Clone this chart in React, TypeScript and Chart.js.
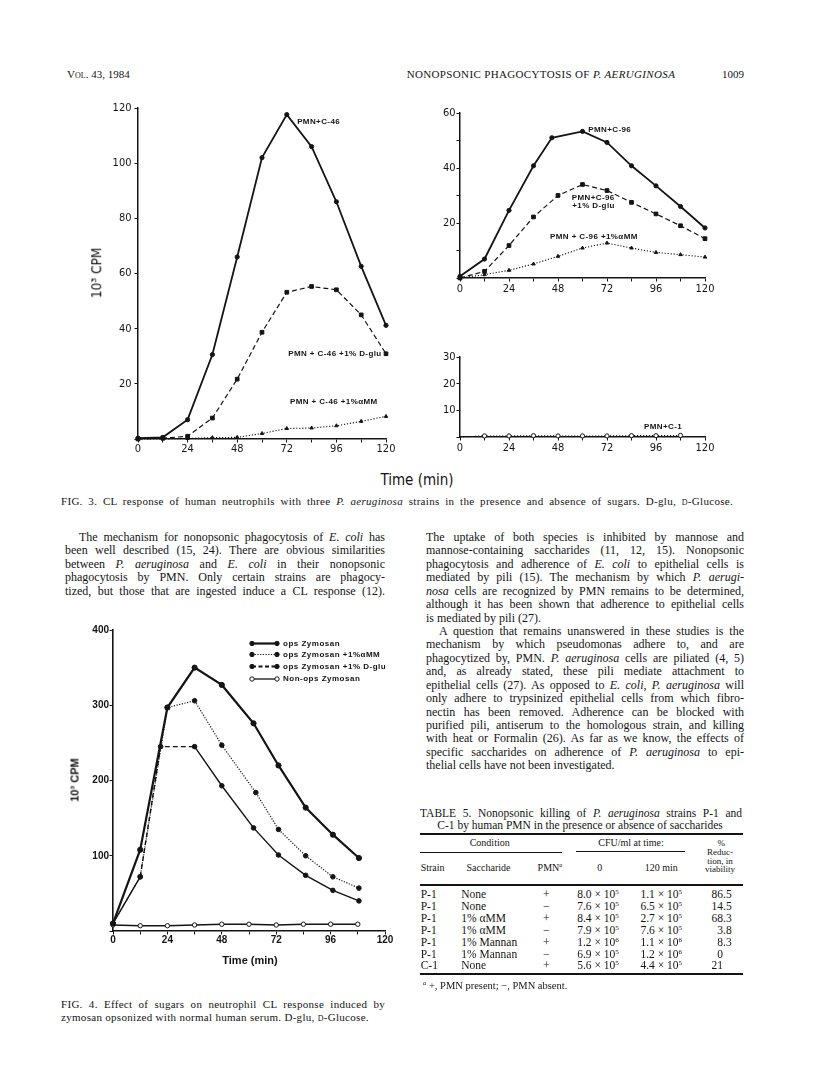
import React, { useEffect, useRef } from 'react';
import { Chart, registerables } from 'chart.js';
Chart.register(...registerables);

// ---------------- DATA ----------------
// Fig. 3, strain C-46 (10^3 CPM vs time, min)
const F3A_T = [0, 12, 24, 36, 48, 60, 72, 84, 96, 108, 120];
const F3A_PMN = [0.3, 0.6, 7, 30.6, 66, 102, 117.6, 106, 86, 62.6, 41.2];
const F3A_DGLU = [0, 0.3, 1, 7.6, 21.7, 38.7, 53.2, 55.3, 54.1, 45, 30.9];
const F3A_AMM = [0, 0, 0.2, 0.5, 0.6, 2, 3.8, 4, 4.8, 6.4, 8.2];

// Fig. 3, strain C-96
const F3B_T_PMN = [0, 12, 24, 36, 45, 60, 72, 84, 96, 108, 120];
const F3B_PMN = [0.6, 6.9, 24.6, 40.8, 51, 53.3, 49.3, 40.8, 33.5, 26, 18.2];
const F3B_T = [0, 12, 24, 36, 48, 60, 72, 84, 96, 108, 120];
const F3B_DGLU = [0, 2.4, 11.8, 22.2, 30, 34, 31.8, 27.5, 23.3, 19, 14.3];
const F3B_AMM = [0, 1.2, 2.8, 5.1, 7.9, 10.9, 12.7, 10.9, 9.3, 8.5, 7.6];

// Fig. 3, strain C-1
const F3C_T = [0, 12, 24, 36, 48, 60, 72, 84, 96, 108];
const F3C_PMN = [0, 0.4, 0.4, 0.5, 0.4, 0.4, 0.4, 0.5, 0.5, 0.6];

// Fig. 4, zymosan
const F4_OPS_T = [0, 12, 24, 36, 48, 62, 73, 85, 97, 108.5];
const F4_OPS = [10, 108, 297, 350, 327, 276, 220, 164, 128, 97];
const F4_AMM_T = [0, 12, 24, 36, 48, 63, 73, 85, 97, 108.5];
const F4_AMM = [10, 72, 297, 306, 247, 184, 135, 100, 72, 57];
const F4_DGLU_T = [0, 12, 21, 36, 48, 62, 73, 85, 97, 108.5];
const F4_DGLU = [10, 72, 245, 245, 193, 137, 101, 74, 54, 40];
const F4_NON_T = [0, 12, 24, 36, 48, 60, 72, 84, 96, 108];
const F4_NON = [8, 7, 7, 8, 9, 9, 8, 9, 9, 9];
const F4_LABELS = ['ops Zymosan', 'ops Zymosan +1%\u03b1MM', 'ops Zymosan +1% D-glu', 'Non-ops Zymosan'];

// Table 5
const T5_STRAIN = ['P-1', 'P-1', 'P-1', 'P-1', 'P-1', 'P-1', 'C-1'];
const T5_SACCH = ['None', 'None', '1% \u03b1MM', '1% \u03b1MM', '1% Mannan', '1% Mannan', 'None'];
const T5_PMN = ['+', '\u2212', '+', '\u2212', '+', '\u2212', '+'];
const T5_CFU0_M = ['8.0', '7.6', '8.4', '7.9', '1.2', '6.9', '5.6'];
const T5_CFU0_E = ['5', '5', '5', '5', '6', '5', '5'];
const T5_CFU120_M = ['1.1', '6.5', '2.7', '7.6', '1.1', '1.2', '4.4'];
const T5_CFU120_E = ['5', '5', '5', '5', '6', '6', '5'];
const T5_RED = ['86.5', '14.5', '68.3', '3.8', '8.3', '0', '21'];

// ---------------- STYLE ----------------
const SERIF = "'Liberation Serif', 'Times New Roman', serif";
const NARROW = "'Liberation Sans Narrow', 'DejaVu Sans Condensed', 'Liberation Sans', sans-serif";
const SANS = "'Liberation Sans', Arial, sans-serif";
const INK = '#141414';

type Note = { text: string; x: number; y: number };

const F3A_NOTES: Note[] = [
  { text: 'PMN+C-46', x: 77, y: 115 },
  { text: 'PMN + C-46 +1% D-glu', x: 72.7, y: 30.8 },
  { text: 'PMN + C-46 +1%\u03b1MM', x: 73.5, y: 13.5 },
];
const F3B_NOTES: Note[] = [
  { text: 'PMN+C-96', x: 62.8, y: 53.8 },
  { text: 'PMN+C-96', x: 54.7, y: 29.2 },
  { text: '+1% D-glu', x: 55, y: 26.4 },
  { text: 'PMN + C-96 +1%\u03b1MM', x: 44.1, y: 15 },
];
const F3C_NOTES: Note[] = [{ text: 'PMN+C-1', x: 90.1, y: 3.9 }];

function notesPlugin(items: Note[], font: string, spacing: string) {
  return {
    id: 'notes',
    afterDatasetsDraw(chart: any) {
      const ctx = chart.ctx;
      const xs = chart.scales.x;
      const ys = chart.scales.y;
      ctx.save();
      ctx.fillStyle = INK;
      ctx.font = font;
      ctx.textBaseline = 'middle';
      ctx.textAlign = 'left';
      try { (ctx as any).letterSpacing = spacing; } catch (e) { /* ignore */ }
      for (const n of items) ctx.fillText(n.text, xs.getPixelForValue(n.x), ys.getPixelForValue(n.y));
      ctx.restore();
    },
  };
}

const F4_LEG_ROWS = [28.5, 39.5, 51.5, 64];
const F4_LEG_X0 = 192;
const F4_LEG_X1 = 217;
const F4_LEG_TX = 223;
const F4_LEG_W = [2.2, 1.2, 1.8, 1.3];
const F4_LEG_DASH = [[], [1.2, 1.5], [4, 2.5], []];

function f4LegendPlugin() {
  return {
    id: 'f4legend',
    afterDraw(chart: any) {
      const ctx = chart.ctx;
      chart.data.datasets.forEach((d: any, i: number) => {
        const y = F4_LEG_ROWS[i];
        ctx.save();
        ctx.strokeStyle = INK;
        ctx.lineWidth = F4_LEG_W[i];
        ctx.setLineDash(F4_LEG_DASH[i]);
        ctx.beginPath();
        ctx.moveTo(F4_LEG_X0, y);
        ctx.lineTo(F4_LEG_X1, y);
        ctx.stroke();
        ctx.setLineDash([]);
        ctx.lineWidth = 1;
        for (const x of [F4_LEG_X0, F4_LEG_X1]) {
          ctx.beginPath();
          ctx.arc(x, y, 2.2, 0, Math.PI * 2);
          ctx.fillStyle = d.pointBackgroundColor;
          ctx.fill();
          ctx.stroke();
        }
        ctx.fillStyle = INK;
        ctx.font = `bold 8px ${SANS}`;
        try { (ctx as any).letterSpacing = '0.5px'; } catch (e) { /* ignore */ }
        ctx.textBaseline = 'middle';
        ctx.textAlign = 'left';
        ctx.fillText(d.label, F4_LEG_TX, y);
        ctx.restore();
      });
    },
  };
}

type ScaleOpt = {
  xMax: number; yMax: number; xStep: number; xLabelEvery: number; yStep: number; yLabelEvery: number;
  yAxisW: number; xAxisH: number; font: any; tl: number; xPad: number; yPad: number; axisW: number;
};

function mkScales(o: ScaleOpt) {
  const grid = () => ({ drawOnChartArea: false, drawTicks: true, tickLength: o.tl, color: INK, lineWidth: 1 });
  return {
    x: {
      type: 'linear', min: 0, max: o.xMax,
      afterFit: (s: any) => { s.height = o.xAxisH; },
      border: { display: true, color: INK, width: o.axisW },
      grid: grid(),
      ticks: {
        stepSize: o.xStep, autoSkip: false, maxRotation: 0, minRotation: 0, padding: o.xPad, color: INK, font: o.font,
        callback: (v: any) => (Math.round(v) % o.xLabelEvery === 0 ? String(v) : ''),
      },
    },
    y: {
      type: 'linear', min: 0, max: o.yMax,
      afterFit: (s: any) => { s.width = o.yAxisW; },
      border: { display: true, color: INK, width: o.axisW },
      grid: grid(),
      ticks: {
        stepSize: o.yStep, autoSkip: false, padding: o.yPad, color: INK, font: o.font,
        callback: (v: any) => (v !== 0 && Math.round(v) % o.yLabelEvery === 0 ? String(v) : ''),
      },
    },
  };
}

function baseOptions(top: number, right: number, scales: any) {
  return {
    responsive: false,
    maintainAspectRatio: false,
    animation: false,
    devicePixelRatio: 1,
    events: [],
    layout: { padding: { top, right, left: 0, bottom: 0 } },
    plugins: { legend: { display: false }, tooltip: { enabled: false } },
    scales,
  };
}

function series(label: string, xs: number[], ys: number[], s: any) {
  return {
    label,
    data: xs.map((x, i) => ({ x, y: ys[i] })),
    borderColor: INK,
    backgroundColor: INK,
    pointBackgroundColor: s.fill ?? INK,
    pointBorderColor: INK,
    pointBorderWidth: 1,
    borderWidth: s.w,
    borderDash: s.dash ?? [],
    pointStyle: s.ps ?? 'circle',
    pointRadius: s.r,
    tension: 0,
    clip: 12,
    ...(s.extra ?? {}),
  };
}

const F3_FONT = { family: NARROW, size: 11 };
const F4_FONT = { family: SANS, size: 10, weight: 'bold' };
const NOTE_FONT = `bold 8px ${SANS}`;

function buildF3A() {
  return {
    type: 'line',
    data: {
      datasets: [
        series('PMN+C-46', F3A_T, F3A_PMN, { w: 1.8, r: 2.1 }),
        series('PMN + C-46 +1% D-glu', F3A_T, F3A_DGLU, { w: 1.2, dash: [5, 3], ps: 'rect', r: 2.6 }),
        series('PMN + C-46 +1%\u03b1MM', F3A_T, F3A_AMM, { w: 1.1, dash: [1.2, 1.8], ps: 'triangle', r: 2 }),
      ],
    },
    options: baseOptions(13, 14, mkScales({
      xMax: 120, yMax: 120, xStep: 12, xLabelEvery: 24, yStep: 20, yLabelEvery: 20,
      yAxisW: 60, xAxisH: 26, font: F3_FONT, tl: 3.5, xPad: 0, yPad: 3, axisW: 1.5,
    })),
    plugins: [notesPlugin(F3A_NOTES, NOTE_FONT, '0.4px')],
  };
}

function buildF3B() {
  return {
    type: 'line',
    data: {
      datasets: [
        series('PMN+C-96', F3B_T_PMN, F3B_PMN, { w: 1.8, r: 2.1 }),
        series('PMN+C-96 +1% D-glu', F3B_T, F3B_DGLU, { w: 1.2, dash: [5, 3], ps: 'rect', r: 2.6 }),
        series('PMN + C-96 +1%\u03b1MM', F3B_T, F3B_AMM, { w: 1.1, dash: [1.2, 1.8], ps: 'triangle', r: 2 }),
      ],
    },
    options: baseOptions(13, 15, mkScales({
      xMax: 120, yMax: 60, xStep: 12, xLabelEvery: 24, yStep: 10, yLabelEvery: 20,
      yAxisW: 50, xAxisH: 22, font: F3_FONT, tl: 3.5, xPad: 1, yPad: 1, axisW: 1.5,
    })),
    plugins: [notesPlugin(F3B_NOTES, NOTE_FONT, '0.4px')],
  };
}

function buildF3C() {
  return {
    type: 'line',
    data: {
      datasets: [
        series('PMN+C-1', F3C_T, F3C_PMN, {
          w: 1.1, dash: [1.2, 1.8], fill: '#ffffff', r: 2.1,
          extra: { pointRadius: (c: any) => (c.dataIndex === 0 ? 0 : 2.1) },
        }),
      ],
    },
    options: baseOptions(12, 15, mkScales({
      xMax: 120, yMax: 30, xStep: 12, xLabelEvery: 24, yStep: 10, yLabelEvery: 10,
      yAxisW: 50, xAxisH: 23, font: F3_FONT, tl: 3.5, xPad: 1, yPad: 1, axisW: 1.5,
    })),
    plugins: [notesPlugin(F3C_NOTES, NOTE_FONT, '0.4px')],
  };
}

function buildF4() {
  return {
    type: 'line',
    data: {
      datasets: [
        series(F4_LABELS[0], F4_OPS_T, F4_OPS, { w: 2.2, r: 2.6 }),
        series(F4_LABELS[1], F4_AMM_T, F4_AMM, { w: 1.2, dash: [1.2, 1.5], r: 2.3 }),
        series(F4_LABELS[2], F4_DGLU_T, F4_DGLU, {
          w: 1.4, r: 2.3,
          extra: { segment: { borderDash: (c: any) => (c.p0DataIndex === 1 || c.p0DataIndex === 2 ? [5, 3] : undefined) } },
        }),
        series(F4_LABELS[3], F4_NON_T, F4_NON, { w: 1.3, r: 2.2, fill: '#ffffff' }),
      ],
    },
    options: baseOptions(15, 15, mkScales({
      xMax: 120, yMax: 400, xStep: 12, xLabelEvery: 24, yStep: 100, yLabelEvery: 100,
      yAxisW: 53, xAxisH: 29, font: F4_FONT, tl: 3.5, xPad: 0, yPad: 0.5, axisW: 1.6,
    })),
    plugins: [f4LegendPlugin()],
  };
}

function ChartCanvas({ left, top, w, h, build }: { left: number; top: number; w: number; h: number; build: () => any }) {
  const ref = useRef<HTMLCanvasElement>(null);
  useEffect(() => {
    const chart = new Chart(ref.current as HTMLCanvasElement, build() as any);
    return () => chart.destroy();
  }, [build]);
  return <canvas ref={ref} width={w} height={h} style={{ position: 'absolute', left, top, width: w, height: h }} />;
}

// ---------------- TEXT HELPERS ----------------
function rich(s: string) {
  return s.split('*').map((p, i) => (i % 2 ? <i key={i}>{p}</i> : <React.Fragment key={i}>{p}</React.Fragment>));
}

type TProps = {
  x: number; cy: number; w?: number; size?: number; justify?: boolean;
  align?: 'left' | 'center' | 'right'; family?: string; style?: React.CSSProperties; children: React.ReactNode;
};
function T({ x, cy, w, size = 12, justify, align = 'left', family, style, children }: TProps) {
  const L = Math.round(size * 1.2);
  const st: React.CSSProperties = {
    position: 'absolute', top: cy - L / 2, fontSize: size, lineHeight: L + 'px', whiteSpace: 'nowrap',
    fontFamily: family ?? SERIF,
  };
  if (w !== undefined) st.width = w;
  if (justify) { st.textAlign = 'justify'; (st as any).textAlignLast = 'justify'; }
  if (align === 'center') { st.left = x; st.transform = 'translateX(-50%)'; }
  else if (align === 'right') { st.right = 816 - x; }
  else st.left = x;
  return <div style={{ ...st, ...style }}>{children}</div>;
}

const Sup = ({ children }: { children: React.ReactNode }) => (
  <span style={{ fontSize: '0.62em', verticalAlign: '4px', lineHeight: 0 }}>{children}</span>
);
const SC = ({ children }: { children: React.ReactNode }) => <span style={{ fontVariant: 'small-caps' }}>{children}</span>;

function Rot({ cx, cy, size, family, weight, children }: { cx: number; cy: number; size: number; family: string; weight?: number; children: React.ReactNode }) {
  return (
    <div style={{
      position: 'absolute', left: cx, top: cy, transform: 'translate(-50%, -50%) rotate(-90deg)',
      fontFamily: family, fontSize: size, fontWeight: weight ?? 400, whiteSpace: 'nowrap', lineHeight: 1,
    }}>{children}</div>
  );
}

const LEFT_LINES = [
  'The mechanism for nonopsonic phagocytosis of *E. coli* has',
  'been well described (15, 24). There are obvious similarities',
  'between *P. aeruginosa* and *E. coli* in their nonopsonic',
  'phagocytosis by PMN. Only certain strains are phagocy-',
  'tized, but those that are ingested induce a CL response (12).',
];
const RIGHT_LINES = [
  'The uptake of both species is inhibited by mannose and',
  'mannose-containing saccharides (11, 12, 15). Nonopsonic',
  'phagocytosis and adherence of *E. coli* to epithelial cells is',
  'mediated by pili (15). The mechanism by which *P. aerugi-*',
  '*nosa* cells are recognized by PMN remains to be determined,',
  'although it has been shown that adherence to epithelial cells',
  'is mediated by pili (27).',
  'A question that remains unanswered in these studies is the',
  'mechanism by which pseudomonas adhere to, and are',
  'phagocytized by, PMN. *P. aeruginosa* cells are piliated (4, 5)',
  'and, as already stated, these pili mediate attachment to',
  'epithelial cells (27). As opposed to *E. coli*, *P. aeruginosa* will',
  'only adhere to trypsinized epithelial cells from which fibro-',
  'nectin has been removed. Adherence can be blocked with',
  'purified pili, antiserum to the homologous strain, and killing',
  'with heat or Formalin (26). As far as we know, the effects of',
  'specific saccharides on adherence of *P. aeruginosa* to epi-',
  'thelial cells have not been investigated.',
];
const RIGHT_LAST = [6, 17];
const RIGHT_INDENT = [7];

const LINE_H = 13.43;
const COL_TOP = 537;
const CAP = { letterSpacing: '0.3px' };

export default function App() {
  const rowY = (i: number) => 894 + i * 11.9;
  return (
    <div style={{ position: 'absolute', left: 0, top: 0, width: 816, height: 1077, background: '#fff', overflow: 'hidden', color: INK, fontFamily: SERIF }}>
      {/* running head */}
      <T x={67} cy={74} size={11}>V<SC>ol</SC>. 43, 1984</T>
      <T x={406.7} cy={74} size={11} style={{ letterSpacing: '0.35px' }}>NONOPSONIC PHAGOCYTOSIS OF <i>P. AERUGINOSA</i></T>
      <T x={722} cy={74} size={11}>1009</T>

      {/* Fig. 3 */}
      <ChartCanvas left={78} top={95} w={322} h={370} build={buildF3A} />
      <ChartCanvas left={410} top={100} w={310} h={200} build={buildF3B} />
      <ChartCanvas left={410} top={345} w={310} h={115} build={buildF3C} />
      <Rot cx={97} cy={273} size={13.5} family={NARROW}>10³ CPM</Rot>
      <T x={417} cy={480} size={15} align="center" family={NARROW}>Time (min)</T>
      <T x={61} cy={501} w={672} size={11} justify style={CAP}>
        FIG. 3. CL response of human neutrophils with three <i>P. aeruginosa</i> strains in the presence and absence of sugars. D-glu, <SC>d</SC>-Glucose.
      </T>

      {/* left column text */}
      {LEFT_LINES.map((l, i) => (
        <T key={'l' + i} x={i === 0 ? 79 : 65} cy={COL_TOP + i * LINE_H} w={i === 0 ? 306 : 320} size={12} justify>{rich(l)}</T>
      ))}

      {/* right column text */}
      {RIGHT_LINES.map((l, i) => {
        const ind = RIGHT_INDENT.includes(i) ? 13 : 0;
        return (
          <T key={'r' + i} x={426 + ind} cy={COL_TOP + i * LINE_H} w={318 - ind} size={12} justify={!RIGHT_LAST.includes(i)}>{rich(l)}</T>
        );
      })}

      {/* Fig. 4 */}
      <ChartCanvas left={60} top={615} w={340} h={345} build={buildF4} />
      <Rot cx={75} cy={780} size={11} family={SANS} weight={700}>10³ CPM</Rot>
      <T x={250} cy={960} size={11} align="center" family={SANS} style={{ fontWeight: 700 }}>Time (min)</T>
      <T x={61} cy={1004} w={324} size={11} justify style={CAP}>FIG. 4. Effect of sugars on neutrophil CL response induced by</T>
      <T x={61} cy={1017.5} size={11} style={CAP}>zymosan opsonized with normal human serum. D-glu, <SC>d</SC>-Glucose.</T>

      {/* Table 5 */}
      <T x={420} cy={812.7} w={322} size={11.5} justify>TABLE 5. Nonopsonic killing of <i>P. aeruginosa</i> strains P-1 and</T>
      <T x={580} cy={824.5} size={11.5} align="center">C-1 by human PMN in the presence or absence of saccharides</T>
      <div style={{ position: 'absolute', left: 420, top: 833.3, width: 323, height: 1.5, background: INK }} />
      <T x={489.7} cy={842.7} size={10} align="center">Condition</T>
      <T x={631} cy={842.7} size={10} align="center">CFU/ml at time:</T>
      <T x={721.3} cy={843} size={9} align="center">%</T>
      <div style={{ position: 'absolute', left: 420, top: 851.6, width: 142, height: 1, background: INK }} />
      <div style={{ position: 'absolute', left: 576, top: 851.3, width: 109, height: 1, background: INK }} />
      <T x={720} cy={852.5} size={9} align="center">Reduc-</T>
      <T x={720} cy={861} size={9} align="center">tion, in</T>
      <T x={720} cy={869.5} size={9} align="center">viability</T>
      <T x={420.7} cy={868.3} size={10}>Strain</T>
      <T x={488.5} cy={868.3} size={10} align="center">Saccharide</T>
      <T x={550} cy={868.3} size={10} align="center">PMN<Sup><i>a</i></Sup></T>
      <T x={599.7} cy={868.3} size={10} align="center">0</T>
      <T x={661.3} cy={868.3} size={10} align="center">120 min</T>
      <div style={{ position: 'absolute', left: 420, top: 884.3, width: 323, height: 1.3, background: INK }} />
      {T5_STRAIN.map((s, i) => (
        <React.Fragment key={'t' + i}>
          <T x={420.7} cy={rowY(i)} size={11.5}>{s}</T>
          <T x={461.3} cy={rowY(i)} size={11.5}>{T5_SACCH[i]}</T>
          <T x={546.3} cy={rowY(i)} size={11.5} align="center">{T5_PMN[i]}</T>
          <T x={598} cy={rowY(i)} size={11.5} align="center">{T5_CFU0_M[i]} × 10<Sup>{T5_CFU0_E[i]}</Sup></T>
          <T x={661.3} cy={rowY(i)} size={11.5} align="center">{T5_CFU120_M[i]} × 10<Sup>{T5_CFU120_E[i]}</Sup></T>
          <T x={723} cy={rowY(i)} size={11.5} align="right">{T5_RED[i].split('.')[0]}</T>
          {T5_RED[i].includes('.') ? <T x={723} cy={rowY(i)} size={11.5}>.{T5_RED[i].split('.')[1]}</T> : null}
        </React.Fragment>
      ))}
      <div style={{ position: 'absolute', left: 420, top: 973.2, width: 323, height: 1.6, background: INK }} />
      <T x={423} cy={985} size={10.5}><Sup><i>a</i></Sup> +, PMN present; −, PMN absent.</T>
    </div>
  );
}
